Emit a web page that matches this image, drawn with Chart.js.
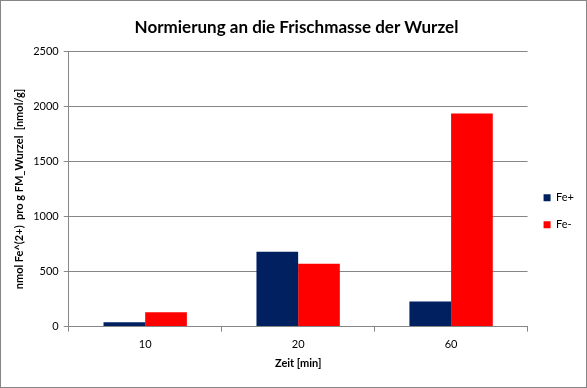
<!DOCTYPE html>
<html>
<head>
<meta charset="utf-8">
<script src="https://cdn.jsdelivr.net/npm/chart.js@4.4.0/dist/chart.umd.min.js"></script>
<style>
  html, body { margin: 0; padding: 0; background: #fff; }
  #wrap { width: 587px; height: 388px; box-sizing: border-box; border: 1px solid #868686; position: relative; }
</style>
</head>
<body>
<div id="wrap"><canvas id="myChart" width="585" height="386"></canvas></div>
<script>
// values
var zeit = ['10', '20', '60'];
var feplus = [39, 680, 229];
var feminus = [131, 570, 1937];
var yTicks = [0, 500, 1000, 1500, 2000, 2500];

var ctx = document.getElementById('myChart').getContext('2d');
var chart = new Chart(ctx, {
    type: 'bar',
    data: {
        labels: zeit,
        datasets: [{
            label: 'Fe+',
            backgroundColor: '#002060',
            data: feplus
        }, {
            label: 'Fe-',
            backgroundColor: '#ff0000',
            data: feminus
        }]
    },
    options: {
        responsive: false,
        animation: false,
        categoryPercentage: 0.545,
        barPercentage: 1,
        layout: { padding: { left: 8, right: 2, top: 8, bottom: 17 } },
        plugins: {
            title: {
                display: true,
                text: 'Normierung an die Frischmasse der Wurzel',
                color: '#000',
                font: { family: 'Lato', size: 17, weight: 'bold' },
                padding: { top: 8, bottom: 14 }
            },
            legend: {
                position: 'right',
                title: { display: true, text: ' ', padding: { top: 0, bottom: 29 } },
                labels: {
                    color: '#000',
                    boxWidth: 7,
                    boxHeight: 7,
                    padding: 16,
                    font: { family: 'Lato', size: 11 }
                }
            },
            tooltip: { enabled: false }
        },
        scales: {
            x: {
                grid: { display: true, drawOnChartArea: false, offset: true, color: '#868686', tickLength: 5 },
                border: { color: '#868686' },
                ticks: { color: '#000', font: { family: 'Lato', size: 11 }, padding: 6 },
                title: { display: true, text: 'Zeit [min]', color: '#000', font: { family: 'Lato', size: 11, weight: 'bold' }, padding: { top: 0, bottom: 0 } }
            },
            y: {
                min: 0,
                max: 2500,
                afterBuildTicks: function (axis) {
                    axis.ticks = yTicks.map(function (v) { return { value: v }; });
                },
                grid: { color: '#868686', tickLength: 5 },
                border: { color: '#868686' },
                ticks: { color: '#000', font: { family: 'Lato', size: 11 }, padding: 5, callback: function (v) { return String(v); } },
                title: { display: true, text: 'nmol Fe^(2+)  pro g FM_Wurzel  [nmol/g]', color: '#000', font: { family: 'Lato', size: 11, weight: 'bold' }, padding: { bottom: 2 } }
            }
        }
    }
});
</script>
</body>
</html>
